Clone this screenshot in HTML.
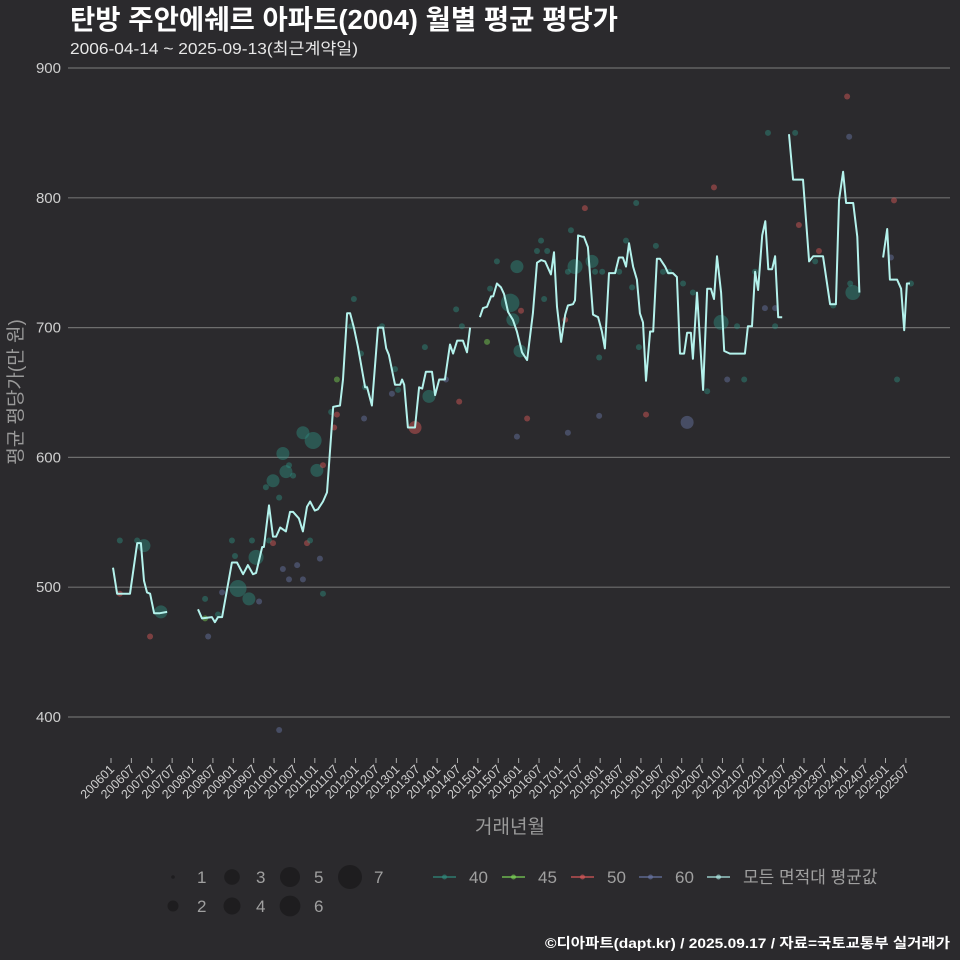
<!DOCTYPE html>
<html><head><meta charset="utf-8"><style>
body{margin:0;background:#2b2a2d;}
svg{display:block;font-family:"Liberation Sans","Noto Sans CJK KR",sans-serif;}
</style></head><body>
<svg id="chart" width="960" height="960" viewBox="0 0 960 960" xmlns="http://www.w3.org/2000/svg">
<rect width="960" height="960" fill="#2b2a2d"/>
<text x="70" y="29" fill="#ffffff" font-size="27.5" font-weight="bold" textLength="548" lengthAdjust="spacingAndGlyphs">탄방 주안에쉐르 아파트(2004) 월별 평균 평당가</text>
<text x="70" y="54" fill="#e8e8e8" font-size="16" textLength="288" lengthAdjust="spacingAndGlyphs">2006-04-14 ~ 2025-09-13(최근계약일)</text>
<g id="grid"></g>
<g id="yticks"></g>
<g id="xticks"></g>
<g id="dots"></g>
<g id="lines"></g>
<text x="510" y="833" fill="#9a9a9a" font-size="19" text-anchor="middle">거래년월</text>
<text transform="translate(22,392) rotate(-90)" fill="#9a9a9a" font-size="19" text-anchor="middle">평균 평당가(만 원)</text>
<g id="legend"></g>
<text x="950" y="948" fill="#ffffff" font-size="14" font-weight="bold" text-anchor="end" textLength="405" lengthAdjust="spacingAndGlyphs">©디아파트(dapt.kr) / 2025.09.17 / 자료=국토교통부 실거래가</text>
</svg>
<script>
// month index = months since 2006-01
const yTicks = [400, 500, 600, 700, 800, 900];
const xTickLabels = [];
for (let y = 2006; y <= 2025; y++) { xTickLabels.push(y + "01"); xTickLabels.push(y + "07"); }
const seg1Months = [0.6,1.8,5.6,7.7,8.8,9.7,10.6,11.5,12.7,14.4,16.5];
const seg1Values = [515,495,495,534,534,505,496,495,480,480,481];
const seg2Months = [25.6,26.8,29.7,30.6,31.5,32.7,35.6,37.1,38.9,40.3,41.8,42.7,44.5,45.0,46.5,47.7,48.6,49.8,51.5,52.7,53.6,55.3,56.5,57.7,58.6,60.0,60.9,62.4,63.6,65.4,67.4,68.3,69.5,70.4,71.5,72.7,74.8,75.4,76.8,78.6,80.1,81.0,81.8,83.6,85.1,85.7,86.3,87.4,89.5,90.7,91.6,92.7,94.5,95.4,96.6,98.3,99.8,100.7,101.9,103.6,104.8,105.7];
const seg2Values = [483,476,477,473,477,477,519,519,510,517,510,511,531,531,563,539,539,546,543,558,558,553,543,562,566,559,560,566,573,639,640,660,711,711,700,685,654,654,640,700,700,684,679,656,656,660,656,623,623,654,653,666,666,648,660,660,687,680,690,690,681,700];
const seg3Months = [108.6,109.5,110.7,111.9,112.5,113.6,114.8,115.7,116.9,118.3,119.5,121.0,122.5,124.2,125.4,126.6,127.8,129.5,130.4,131.3,132.5,133.7,134.5,136.0,136.6,137.5,138.7,139.2,140.4,141.9,143.4,144.5,145.4,146.6,148.4,149.5,150.7,151.6,152.5,153.7,154.8,155.7,156.6,157.5,158.7,159.6,160.7,161.6,163.1,164.0,165.4,166.6,167.5,168.7,169.6,170.7,171.3,172.5,174.3,175.5,176.6,177.5,178.4,179.6,180.5,182.2,186.6,187.5,188.7,189.6,190.5,191.7,192.6,193.5,194.6,195.5,196.4,197.6];
const seg3Values = [708,715,716,724,724,734,731,726,712,706,697,681,675,711,750,752,751,741,758,716,689,710,717,718,721,771,770,770,762,710,708,697,684,742,742,754,754,747,765,747,737,711,704,659,697,697,753,753,747,742,742,739,680,680,696,696,676,727,652,730,730,722,755,727,682,680,680,701,701,743,729,771,782,745,745,755,708,708];
const seg4Months = [199.6,200.8,203.7,205.5,206.7,209.6,211.7,213.4,214.3,215.5,216.4,218.5,219.7,220.3];
const seg4Values = [849,814,814,751,755,755,718,718,798,820,796,796,770,727];
const seg5Months = [227.3,228.5,229.3,231.4,232.6,233.5,234.3,235.2];
const seg5Values = [754,776,737,737,730,698,734,734];
// dots: month, value, area group (0=40,1=45,2=50,3=60), count
const dotMonths = [2.6,7.7,9.7,2.6,11.5,14.7,27.7,27.7,28.6,31.5,32.7,35.6,36.5,37.4,40.6,41.5,43.6,42.7,46.5,47.7,50.6,52.4,54.8,56.5,57.7,58.6,61.5,62.4,45.6,47.7,49.5,50.6,51.5,52.4,53.6,56.5,59.5,60.6,62.4,64.8,65.7,66.5,66.5,71.5,70.7,73.6,74.5,74.8,79.8,82.7,83.6,84.5,89.5,92.4,93.6,98.6,101.6,102.5,103.3,110.7,111.6,113.6,117.5,118.3,119.5,120.4,120.7,122.5,119.5,126.6,125.4,128.4,127.5,133.7,134.5,135.4,139.5,136.6,134.5,141.6,142.5,144.6,143.7,143.7,149.6,151.6,153.4,154.6,155.4,157.5,160.4,162.5,164.3,168.4,171.3,175.5,169.6,177.5,179.6,181.4,184.3,186.4,189.6,192.5,195.5,195.5,193.4,201.4,202.5,208.4,207.3,212.6,217.3,218.4,217.6,216.7,49.5,230.5,229.6,231.4,235.5];
const dotValues = [536,536,532,495,462,481,491,476,462,479,496,536,524,499,491,536,489,523,536,534,514,506,517,506,534,536,522,495,577,582,569,603,589,594,586,619,613,590,594,635,623,633,660,722,701,680,630,654,701,649,668,652,623,685,647,660,714,643,701,689,730,751,719,706,747,682,713,630,616,767,759,759,722,706,619,775,792,747,743,751,743,743,677,632,743,767,731,796,685,633,763,743,743,734,727,651,627,808,704,660,701,660,743,715,715,701,850,850,779,759,751,717,847,727,734,878,390,798,754,660,734];
const dotGroups = [0,0,0,2,2,0,0,1,3,0,3,0,0,0,0,0,3,0,0,2,3,3,3,3,2,0,3,0,0,0,0,0,0,0,0,0,0,0,2,0,2,2,1,0,0,0,3,0,0,3,0,0,2,0,0,3,0,2,0,1,0,0,0,0,0,0,2,2,3,0,0,0,0,2,3,0,2,0,0,0,0,0,0,3,0,0,0,0,0,2,0,0,0,0,0,0,3,2,0,3,0,0,0,3,3,0,0,0,2,2,0,0,3,0,0,2,3,2,3,0,0];
const dotCounts = [1,1,3,1,1,3,1,1,1,1,1,1,1,5,3,1,1,4,1,1,1,1,1,1,1,1,1,1,1,3,1,3,3,1,1,3,5,3,1,1,1,1,1,1,1,1,1,1,1,1,1,1,3,1,3,1,1,1,1,1,1,1,6,3,3,3,1,1,1,1,1,1,1,1,1,1,1,4,1,3,1,1,1,1,1,1,1,1,1,1,1,1,1,1,1,1,3,1,4,1,1,1,1,1,1,1,1,1,1,1,1,1,1,4,1,1,1,1,1,1,1];
const groupLabels = ["40","45","50","60"];
const groupColors = ["#2f8f80","#7ed957","#e05a5a","#6a78a8"];
const sizeLabels = [1,2,3,4,5,6,7];

const NS = "http://www.w3.org/2000/svg";
const X0 = 111, XM = 3.397, Y0 = 717, YK = 1.298;
const RAD = [0,2.5,4.5,6,7,8,8.8,9.5];
function xScale(m){ return X0 + m * XM; }
function yScale(v){ return Y0 - (v - 400) * YK; }
function rScale(c){ return RAD[c] + 0.5; }
function mk(tag, attrs, parent){ const e = document.createElementNS(NS, tag); for (const k in attrs) e.setAttribute(k, attrs[k]); parent.appendChild(e); return e; }

const grid = document.getElementById('grid'), yt = document.getElementById('yticks'), xt = document.getElementById('xticks');
yTicks.forEach(v => {
  const l = mk('line', {x1:68, x2:950, y1:yScale(v), y2:yScale(v), stroke:'#6e6e6e', 'stroke-width':1.2}, grid);
  
  
  const t = mk('text', {x:61, y:yScale(v)+5, fill:'#cfcfcf', 'font-size':15, 'text-anchor':'end'}, yt);
  t.textContent = v;
  
  
});
xTickLabels.forEach((lab, i) => {
  const x = xScale(i * 6);
  const tk = mk('line', {x1:x, x2:x, y1:758, y2:763, stroke:'#aaa', 'stroke-width':1}, xt);
  
  
  const t = mk('text', {transform:'translate(' + (x+4) + ',770) rotate(-45)', fill:'#cfcfcf', 'font-size':12.5, 'text-anchor':'end'}, xt);
  t.textContent = lab;
  
  
});
const dots = document.getElementById('dots');
dotMonths.forEach((m, i) => {
  const c = mk('circle', {cx:xScale(m), cy:yScale(dotValues[i]), r:rScale(dotCounts[i]), fill:groupColors[dotGroups[i]], 'fill-opacity':0.45}, dots);
  
  
});
const lines = document.getElementById('lines');
[[seg1Months,seg1Values],[seg2Months,seg2Values],[seg3Months,seg3Values],[seg4Months,seg4Values],[seg5Months,seg5Values]].forEach((s, k) => {
  const pts = s[0].map((m, i) => xScale(m).toFixed(1) + ',' + yScale(s[1][i]).toFixed(1)).join(' ');
  const p = mk('polyline', {points:pts, fill:'none', stroke:'#b4f2ec', 'stroke-width':2, 'stroke-linejoin':'round'}, lines);
  
  
});
const lg = document.getElementById('legend');
const legR = [1.8,5.5,7.8,8.5,10,10.4,12];
const legX = [173, 232, 290, 350];
sizeLabels.forEach((s, i) => {
  const col = Math.floor(i / 2), row = i % 2;
  const cx = legX[col], cy = 877 + row * 29;
  const c = mk('circle', {cx:cx, cy:cy, r:legR[i], fill:'#1e1d1f'}, lg);
  
  
  const t = mk('text', {x:cx+24, y:cy+6, fill:'#a0a0a0', 'font-size':17}, lg);
  t.textContent = s;
  
  
});
const lineLegend = groupLabels.concat(['모든 면적대 평균값']);
const lineColors = groupColors.concat(['#b4f2ec']);
const lx = [433, 502, 571, 639, 707];
lineLegend.forEach((lab, i) => {
  const g = mk('g', {}, lg);
  
  
  mk('line', {x1:lx[i], x2:lx[i]+23, y1:877, y2:877, stroke:lineColors[i], 'stroke-width':1.5, 'stroke-opacity':0.8}, g);
  mk('circle', {cx:lx[i]+11.5, cy:877, r:2.5, fill:lineColors[i], 'fill-opacity':0.6}, g);
  const t = mk('text', {x:lx[i]+36, y:883, fill:'#a0a0a0', 'font-size':17}, g);
  t.textContent = lab;
});
</script>
</body></html>
